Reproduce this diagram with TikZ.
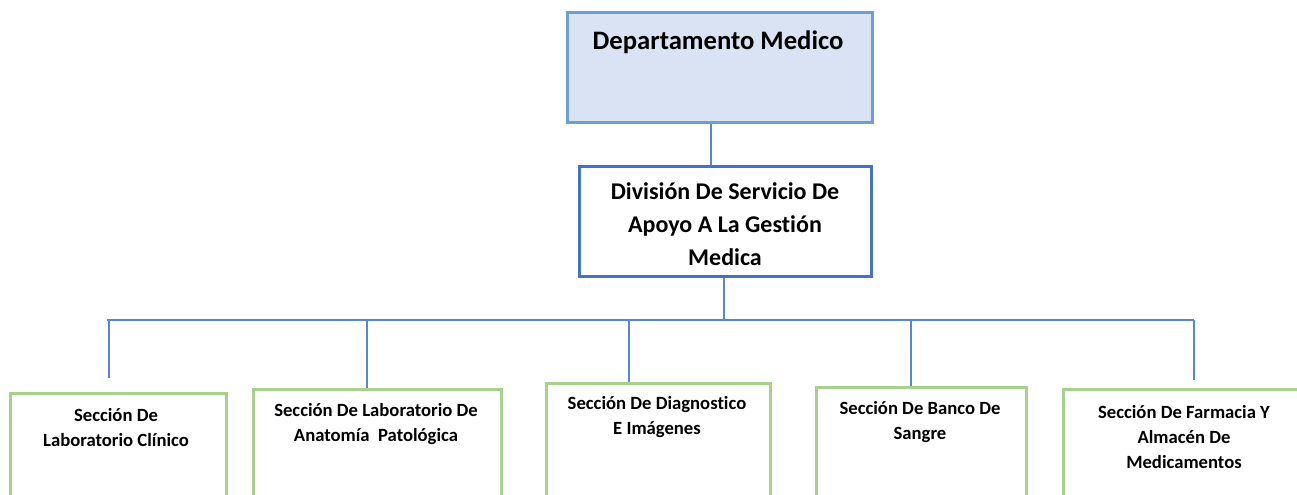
\documentclass[tikz,border=0pt]{standalone}
\usepackage{fontspec}
\setmainfont{Carlito}[Ligatures=NoCommon]
\definecolor{topfill}{HTML}{DAE3F3}
\definecolor{topline}{HTML}{6A9FD8}
\definecolor{divline}{HTML}{4472C4}
\definecolor{conn}{HTML}{5A86CF}
\definecolor{secline}{HTML}{A9D18E}
\begin{document}
\begin{tikzpicture}[x=0.75pt,y=-0.75pt,
  topbox/.style={draw=topline,fill=topfill,line width=2.2pt,anchor=north west,inner sep=0pt},
  divbox/.style={draw=divline,line width=2.2pt,anchor=north west,inner sep=0pt},
  secbox/.style={draw=secline,line width=2pt,anchor=north west,inner sep=0pt,minimum height=105pt},
  toptext/.style={font=\bfseries\fontsize{20pt}{24pt}\selectfont,align=center,inner sep=0pt},
  divtext/.style={font=\bfseries\fontsize{18pt}{24.75pt}\selectfont,align=center,inner sep=0pt},
  sectext/.style={font=\bfseries\fontsize{14pt}{18.75pt}\selectfont,align=center,inner sep=0pt},
  conline/.style={draw=conn,line width=1.1pt}]
\useasboundingbox (0,0) rectangle (1297,494);
\clip (0,0) rectangle (1297,494);
% boxes
\node[topbox,minimum width=228.75pt,minimum height=82.5pt] (top) at (566,11) {};
\node[toptext] (toplbl) at (718,42) {Departamento Medico};
\node[divbox,minimum width=219pt,minimum height=82.5pt] (div) at (578,165) {};
\node[divtext] (divlbl) at (725,224) {División De Servicio De\\Apoyo A La Gestión\\Medica};
\node[secbox,minimum width=162pt] (s1) at (9,392) {};
\node[secbox,minimum width=186pt] (s2) at (252,388) {};
\node[secbox,minimum width=168pt] (s3) at (545,382) {};
\node[secbox,minimum width=157.5pt] (s4) at (815,386) {};
\node[secbox,minimum width=195pt] (s5) at (1062,388) {};
\node[sectext] (t1) at (116,428) {Sección De\\Laboratorio Clínico};
\node[sectext] (t2) at (376,424.5) {Sección De Laboratorio De\\Anatomía~ Patológica};
\node[sectext] (t3) at (657,417.5) {Sección De Diagnostico\\E Imágenes};
\node[sectext] (t4) at (920,422.5) {Sección De Banco De\\Sangre};
\node[sectext] (t5) at (1184,437) {Sección De Farmacia Y\\Almacén De\\Medicamentos};
% connector coordinates
\coordinate (j0) at (711,0);
\coordinate (j1) at (724,0);
\coordinate (bl) at (107,320);
\coordinate (br) at (1194,320);
\coordinate (d1) at (109,320);
\coordinate (e1) at (109,378);
\coordinate (d2) at (367,320);
\coordinate (d3) at (629,320);
\coordinate (d4) at (911,320);
\coordinate (d5) at (1194,320);
% connectors
\draw[conline] (top.south -| j0) -- (div.north -| j0);
\draw[conline] (div.south -| j1) -- (bl -| j1);
\draw[conline] (bl) -- (br);
\draw[conline] (d1) -- (e1);
\draw[conline] (d2) -- (s2.north -| d2);
\draw[conline] (d3) -- (s3.north -| d3);
\draw[conline] (d4) -- (s4.north -| d4);
\draw[conline] (d5) -- ([yshift=6]s5.north -| d5);
\end{tikzpicture}
\end{document}
